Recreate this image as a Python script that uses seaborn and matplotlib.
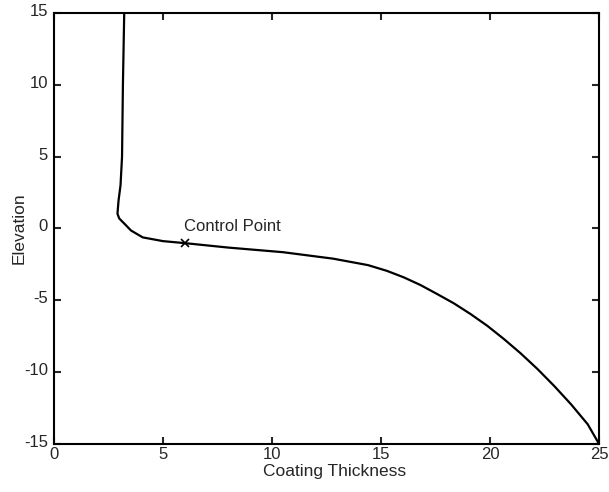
import numpy as np
import pandas as pd
import matplotlib
matplotlib.use("Agg")
import matplotlib.pyplot as plt
import matplotlib.transforms as mtransforms
import seaborn as sns

# curve
thickness = [3.22, 3.19, 3.16, 3.12, 3.05, 2.96, 2.91, 2.99, 3.25, 3.53,
             4.07, 5.0, 6.0, 8.0, 10.5, 12.8, 14.4, 15.27, 16.04, 16.8,
             17.57, 18.34, 19.1, 19.87, 20.64, 21.41, 22.18, 22.94, 23.71,
             24.48, 25.0]
elevation = [15.0, 12.5, 10.0, 5.0, 3.0, 1.95, 1.03, 0.7, 0.3, -0.14,
             -0.62, -0.88, -1.02, -1.33, -1.65, -2.1, -2.55, -2.95, -3.4, -3.93,
             -4.56, -5.21, -5.95, -6.77, -7.7, -8.7, -9.79, -10.96, -12.23,
             -13.63, -15.0]

control_x = [6.0]
control_y = [-1.0]
control_label = "Control Point"

x_ticks = [0, 5, 10, 15, 20, 25]
y_ticks = [-15, -10, -5, 0, 5, 10, 15]

sns.set_style("ticks")
plt.rcParams['font.family'] = ['Liberation Sans', 'DejaVu Sans']
plt.rcParams['axes.unicode_minus'] = False

df = pd.DataFrame({"Coating Thickness": thickness, "Elevation": elevation})

fig = plt.figure(figsize=(6.09, 4.92), dpi=100)
ax = fig.add_axes([0.0887, 0.0976, 0.895, 0.876])

sns.lineplot(data=df, x="Coating Thickness", y="Elevation", sort=False,
             color="black", linewidth=1.6, ax=ax)
ax.plot(control_x, control_y, marker="x", color="black", linestyle="none",
        markersize=6, markeredgewidth=1.2)
ax.text(control_x[0] - 0.05, control_y[0] + 0.85, control_label,
        fontsize=12, ha="left", va="baseline")

ax.set_xlim(0, 25)
ax.set_ylim(-15, 15)
ax.set_xticks(x_ticks)
ax.set_yticks(y_ticks)
ax.set_xlabel("Coating Thickness", fontsize=12.5, va="top")
ax.set_ylabel("Elevation", fontsize=12.5)
ax.xaxis.set_label_coords(0.514, -0.047)
ax.yaxis.set_label_coords(-0.05, 0.5)
ax.tick_params(direction="in", top=True, right=True, length=5, width=1.5,
               labelsize=12)
ax.tick_params(axis="x", pad=2)
ax.tick_params(axis="y", pad=4.5)
# matlab-style: y labels sit a little above their ticks
shift = mtransforms.ScaledTranslation(0, 3 / 100, fig.dpi_scale_trans)
for lab in ax.get_yticklabels():
    lab.set_transform(lab.get_transform() + shift)
for s in ax.spines.values():
    s.set_visible(True)
    s.set_linewidth(1.5)
    s.set_color("black")

fig.savefig("out.png", dpi=100)
